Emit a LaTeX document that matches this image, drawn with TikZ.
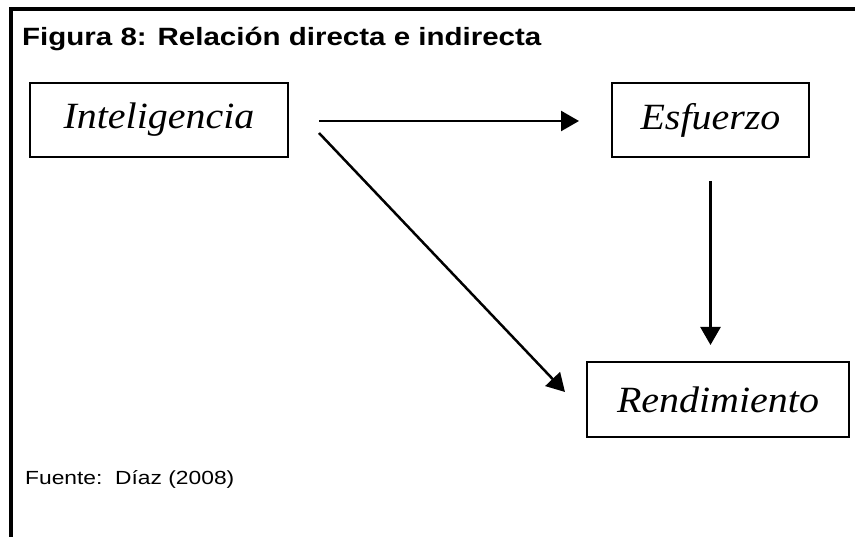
\documentclass[tikz,border=0pt]{standalone}
\usepackage{fontspec}
\setmainfont{Liberation Serif}
\newfontfamily\headfont[FakeStretch=1.18]{Liberation Sans}
\newfontfamily\notefont[FakeStretch=1.2]{Liberation Sans}
\newfontfamily\varfont[FakeStretch=1.08]{Liberation Serif}
\usetikzlibrary{arrows.meta, calc}
\tikzset{
  varbox/.style={draw, line width=2pt, minimum height=74pt, inner sep=0pt,
    font={\varfont\itshape\fontsize{37}{42}\selectfont}},
  link/.style={line width=2.5pt, -{Triangle[length=18pt, width=20pt]}}
}

\begin{document}
\begin{tikzpicture}[x=1pt, y=-1pt]

  \useasboundingbox (0,0) rectangle (855,537);
  \draw[line width=3.5pt] (11,537) -- (11,9) -- (855,9);

  \node[anchor=base west, inner sep=0pt, font={\headfont\bfseries\fontsize{25}{30}\selectfont}] (title) at (22,46) {Figura 8: Relación directa e indirecta};

  \node[varbox, minimum width=258pt] (intel) at (159,120) {Inteligencia};
  \node[varbox, minimum width=197pt] (esf) at (710.5,120) {Esfuerzo};
  \node[varbox, minimum width=262pt, minimum height=75pt] (rend) at (718,399.5) {Rendimiento};

  \draw[link] ($ (intel.east)+(30,1) $) -- ($ (esf.west)+(-32,1) $);
  \draw[link] ($ (intel.east)+(30,13) $) -- ($ (rend.west)+(-21,-7.5) $);
  \draw[link, shorten <=23pt, shorten >=16pt] (esf.south) -- (esf.south |- rend.north);

  \node[anchor=base west, inner sep=0pt, font={\notefont\fontsize{19}{23}\selectfont}] (fuente) at (25,485) {Fuente:\ \ Díaz (2008)};

\end{tikzpicture}
\end{document}
